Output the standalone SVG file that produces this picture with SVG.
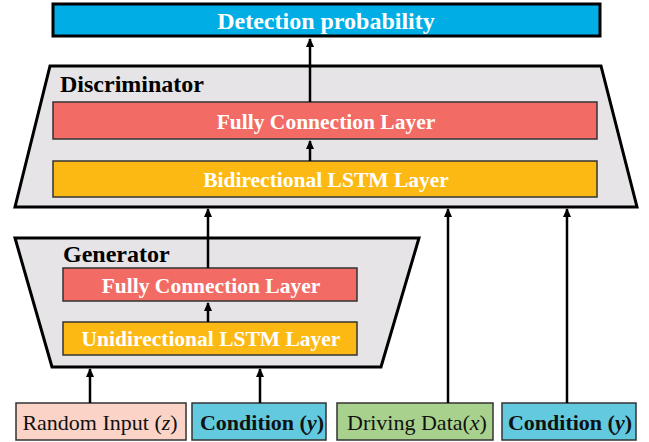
<svg xmlns="http://www.w3.org/2000/svg" width="649" height="442" viewBox="0 0 649 442">
<style>
  .outer { fill: #E6E4E6; stroke: #000; stroke-width: 3; stroke-linejoin: miter; }
  .layer { stroke: #333; stroke-width: 1.5; }
  .fc { fill: #F26B64; }
  .lstm { fill: #FDB913; }
  .wt { font-family: "Liberation Serif", "Times New Roman", serif; font-weight: bold; fill: #fff; text-anchor: middle; }
  .ly { font-size: 21.5px; }
  .lbl { font-family: "Liberation Serif", "Times New Roman", serif; font-weight: bold; fill: #000; font-size: 24px; }
  .in { stroke: #333; stroke-width: 1.5; }
  .it { font-family: "Liberation Serif", "Times New Roman", serif; fill: #111; text-anchor: middle; font-size: 22px; }
  .conn line { stroke: #000; stroke-width: 2.5; marker-end: url(#ah); }
</style>
<defs>
  <marker id="ah" markerUnits="userSpaceOnUse" markerWidth="10" markerHeight="10" refX="8" refY="4" orient="auto">
    <path d="M0,0 L9,4 L0,8 Z" fill="#000"/>
  </marker>
</defs>
<rect width="649" height="442" fill="#fff"/>

<g id="detection">
  <rect x="53" y="4" width="547" height="32" fill="#00ADE5" stroke="#000" stroke-width="3"/>
  <text class="wt" x="326" y="28.5" font-size="24">Detection probability</text>
</g>

<g id="discriminator">
  <polygon class="outer" points="50,66 601,66 637,207 15,207"/>
  <text class="lbl" x="60" y="92">Discriminator</text>
</g>
<g id="disc-fc">
  <rect class="layer fc" x="53" y="102" width="544" height="37"/>
  <text class="wt ly" x="326" y="128.5">Fully Connection Layer</text>
</g>
<g id="disc-lstm">
  <rect class="layer lstm" x="53" y="161" width="544" height="36"/>
  <text class="wt ly" x="326" y="187">Bidirectional LSTM Layer</text>
</g>

<g id="generator">
  <polygon class="outer" points="15,238 419,238 381,367 52,367"/>
  <text class="lbl" x="63" y="262">Generator</text>
</g>
<g id="gen-fc">
  <rect class="layer fc" x="63" y="268" width="294" height="33"/>
  <text class="wt ly" x="211" y="293">Fully Connection Layer</text>
</g>
<g id="gen-lstm">
  <rect class="layer lstm" x="63" y="322" width="294" height="33"/>
  <text class="wt ly" x="211" y="346">Unidirectional LSTM Layer</text>
</g>

<g id="random-input">
  <rect class="in" x="16" y="403" width="170" height="37" fill="#FBD4C7"/>
  <text class="it" x="100" y="430" font-size="21.5">Random Input (<tspan font-style="italic">z</tspan>)</text>
</g>
<g id="condition-1">
  <rect class="in" x="192" y="403" width="134" height="37" fill="#62C9DF"/>
  <text class="it" x="262" y="430" font-weight="bold">Condition (<tspan font-style="italic">y</tspan>)</text>
</g>
<g id="driving-data">
  <rect class="in" x="337" y="403" width="156" height="37" fill="#A9D18E"/>
  <text class="it" x="417" y="430">Driving Data(<tspan font-style="italic">x</tspan>)</text>
</g>
<g id="condition-2">
  <rect class="in" x="502" y="403" width="134" height="37" fill="#62C9DF"/>
  <text class="it" x="570" y="430" font-weight="bold">Condition (<tspan font-style="italic">y</tspan>)</text>
</g>

<g id="connectors" class="conn">
  <line x1="310" y1="102" x2="310" y2="39"/>
  <line x1="310" y1="161" x2="310" y2="141"/>
  <line x1="208" y1="268" x2="208" y2="209"/>
  <line x1="448" y1="403" x2="448" y2="209"/>
  <line x1="567" y1="403" x2="567" y2="209"/>
  <line x1="208" y1="322" x2="208" y2="303"/>
  <line x1="90" y1="403" x2="90" y2="369"/>
  <line x1="260" y1="403" x2="260" y2="369"/>
</g>
</svg>
